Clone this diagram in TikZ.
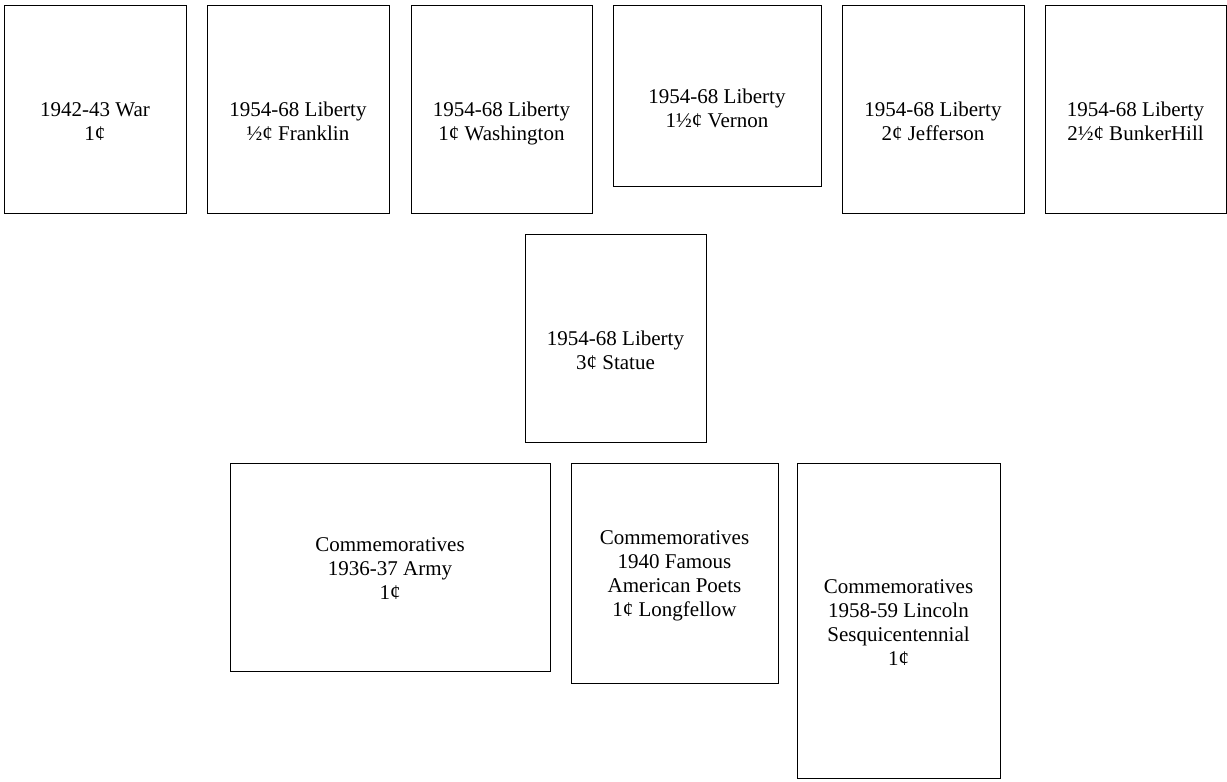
\documentclass[tikz,border=0pt]{standalone}
\usepackage{fontspec}
\setmainfont{Liberation Serif}
\begin{document}
\begin{tikzpicture}[x=1pt,y=-1pt,
  stamp/.style={draw=black,line width=1pt,inner sep=0pt,anchor=north west},
  lbl/.style={align=center,anchor=base,inner sep=0pt,font=\fontsize{21}{24}\selectfont}]
\useasboundingbox (0,0) rectangle (1227,782);
% top row
\node[stamp,minimum width=182pt,minimum height=208pt] (b1) at (4,5) {};
\node[stamp,minimum width=182pt,minimum height=208pt] (b2) at (207,5) {};
\node[stamp,minimum width=181pt,minimum height=208pt] (b3) at (411,5) {};
\node[stamp,minimum width=208pt,minimum height=181pt] (b4) at (613,5) {};
\node[stamp,minimum width=182pt,minimum height=208pt] (b5) at (842,5) {};
\node[stamp,minimum width=181pt,minimum height=208pt] (b6) at (1045,5) {};
% middle
\node[stamp,minimum width=181pt,minimum height=208pt] (b7) at (525,234) {};
% bottom row
\node[stamp,minimum width=320pt,minimum height=208pt] (b8) at (230,463) {};
\node[stamp,minimum width=207pt,minimum height=220pt] (b9) at (571,463) {};
\node[stamp,minimum width=203pt,minimum height=315pt] (b10) at (797,463) {};
% labels (anchor = baseline of the last line)
\node[lbl] (t1) at (95,140) {1942-43 War\\1¢};
\node[lbl] (t2) at (298,140) {1954-68 Liberty\\½¢ Franklin};
\node[lbl] (t3) at (501.5,140) {1954-68 Liberty\\1¢ Washington};
\node[lbl] (t4) at (717,127) {1954-68 Liberty\\1½¢ Vernon};
\node[lbl] (t5) at (933,140) {1954-68 Liberty\\2¢ Jefferson};
\node[lbl] (t6) at (1135.5,140) {1954-68 Liberty\\2½¢ BunkerHill};
\node[lbl] (t7) at (615.5,369) {1954-68 Liberty\\3¢ Statue};
\node[lbl] (t8) at (390,599) {Commemoratives\\1936-37 Army\\1¢};
\node[lbl] (t9) at (674.5,616) {Commemoratives\\1940 Famous\\American Poets\\1¢ Longfellow};
\node[lbl] (t10) at (898.5,665) {Commemoratives\\1958-59 Lincoln\\Sesquicentennial\\1¢};
\end{tikzpicture}
\end{document}
